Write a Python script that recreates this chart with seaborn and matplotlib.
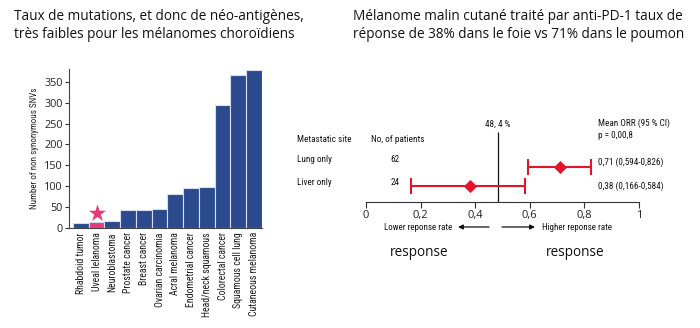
import matplotlib
matplotlib.use("Agg")
import matplotlib.pyplot as plt
import seaborn as sns
import numpy as np
from matplotlib import font_manager as fm

# ---------------- data ----------------
cancer_types = ["Rhabdoid tumor", "Uveal lelanoma", "Neuroblastoma", "Prostate cancer",
                "Breast cancer", "Ovarian carcinomia", "Acral melanoma", "Endometrial cancer",
                "Head/neck squamous", "Colorectal cancer", "Squamous cell lung", "Cutaneous melanoma"]
snv_counts = [11, 15, 17, 43, 43, 46, 82, 95, 98, 295, 365, 377]
highlight = "Uveal lelanoma"
star_value = 36
y_ticks = [0, 50, 100, 150, 200, 250, 300, 350]

sites = ["Lung only", "Liver only"]
n_patients = ["62", "24"]
orr = [0.71, 0.38]
ci_low = [0.594, 0.166]
ci_high = [0.826, 0.584]
orr_labels = ["0,71 (0,594-0,826)", "0,38 (0,166-0,584)"]
ref_rate = 0.484
x_ticks = [0, 0.2, 0.4, 0.6, 0.8, 1.0]
x_tick_labels = ["0", "0,2", "0,4", "0,6", "0,8", "1"]

title_left = ["Taux de mutations, et donc de néo-antigènes,",
              "très faibles pour les mélanomes choroïdiens"]
title_right = ["Mélanome malin cutané traité par anti-PD-1 taux de",
               "réponse de 38% dans le foie vs 71% dans le poumon"]

# ---------------- style ----------------
sns.set_theme(style="white")
plt.rcParams["font.family"] = ["Open Sans", "DejaVu Sans"]
names = {f.name for f in fm.fontManager.ttflist}
COND = None
for cand in ["Liberation Sans Narrow", "DejaVu Sans Condensed", "Roboto Condensed", "Open Sans Condensed"]:
    if cand in names:
        COND = cand
        break
if COND is None:
    cond_kw = dict(family="DejaVu Sans", stretch="condensed")
else:
    cond_kw = dict(family=COND)

BLUE = "#2a4a8d"
PINK = "#e6397c"
RED = "#e2142e"

W, H = 700, 328
fig = plt.figure(figsize=(7, 3.28), dpi=100)
fx = lambda x: x / W
fy = lambda y: 1 - y / H

# ---------------- left: bar chart ----------------
axL = fig.add_axes([fx(69), fy(228), (262 - 69) / W, (228 - 69.2) / H])
colors = [PINK if c == highlight else BLUE for c in cancer_types]
sns.barplot(x=cancer_types, y=snv_counts, hue=cancer_types, palette=colors, legend=False,
            width=1.0, edgecolor="#d6dceb", linewidth=0.8, saturation=1, ax=axL)
axL.set_xlim(-0.75, len(cancer_types) - 0.5)
axL.set_ylim(0, 380)
axL.set_yticks(y_ticks)
axL.set_yticklabels([str(v) for v in y_ticks], fontsize=7.8, color="#222222")
axL.tick_params(axis="y", direction="out", length=3, width=0.8, color="#333333", pad=1.5, left=True)
axL.tick_params(axis="x", length=0, pad=3)
axL.set_xticks(range(len(cancer_types)))
axL.set_xticklabels(cancer_types, rotation=90, fontsize=7, color="#1a1a1a", **cond_kw)
for s in ["top", "right"]:
    axL.spines[s].set_visible(False)
for s in ["left", "bottom"]:
    axL.spines[s].set_color("#444444")
    axL.spines[s].set_linewidth(0.8)
axL.set_ylabel("Number of non synonymous SNVs", fontsize=6.5, color="#222222", labelpad=4, **cond_kw)
axL.scatter([cancer_types.index(highlight)], [star_value], marker="*", s=170, color=PINK,
            linewidths=0, zorder=5)

tt = dict(fontsize=9.8, va="center", ha="left", color="#111111")
fig.text(fx(14), fy(17), title_left[0], **tt)
fig.text(fx(14), fy(35), title_left[1], **tt)
fig.text(fx(353), fy(17), title_right[0], **tt)
fig.text(fx(353), fy(35), title_right[1], **tt)

# ---------------- right: forest plot ----------------
unit = 19.0
y0 = 1 - 16 / unit
axR = fig.add_axes([fx(366), fy(202), 273 / W, 87 / H])
axR.set_xlim(0, 1)
axR.set_ylim(y0, y0 + 87 / unit)
rows = [2, 1]
orr_a = np.array(orr)
axR.errorbar(orr, rows, xerr=[orr_a - np.array(ci_low), np.array(ci_high) - orr_a],
             fmt="none", ecolor=RED, elinewidth=1.5, capsize=5.5, capthick=1.5, zorder=3)
sns.scatterplot(x=orr, y=rows, marker="D", s=45, color=RED, edgecolor=RED, linewidth=0,
                ax=axR, zorder=4, legend=False)
axR.vlines(ref_rate, y0, y0 + (202 - 131.5) / unit, color="#111111", lw=0.9)
axR.set_xticks(x_ticks)
axR.set_xticklabels(x_tick_labels, fontsize=8, color="#222222")
axR.set_yticks([])
axR.tick_params(axis="x", direction="out", length=4, width=0.8, color="#333333", pad=1.5, bottom=True)
for s in ["top", "right", "left"]:
    axR.spines[s].set_visible(False)
axR.spines["bottom"].set_color("#333333")
axR.spines["bottom"].set_linewidth(0.8)

tk = dict(fontsize=6.6, color="#111111", va="center", **cond_kw)
fig.text(fx(297), fy(139), "Metastatic site", ha="left", **tk)
fig.text(fx(371), fy(139), "No, of patients", ha="left", **tk)
for site, n, lab, yl, yv in zip(sites, n_patients, orr_labels, [159, 182], [162, 186]):
    fig.text(fx(297), fy(yl), site, ha="left", **tk)
    fig.text(fx(395), fy(yl), n, ha="center", **tk)
    fig.text(fx(598), fy(yv), lab, ha="left", **tk)
fig.text(fx(498), fy(124), "48, 4 %", ha="center", **tk)
fig.text(fx(598), fy(123), "Mean ORR (95 % CI)", ha="left", **tk)
fig.text(fx(598), fy(136), "p = 0,00,8", ha="left", **tk)

fig.text(fx(452), fy(227), "Lower reponse rate", ha="right", **dict(tk, fontsize=6.5))
fig.text(fx(542), fy(227), "Higher reponse rate", ha="left", **dict(tk, fontsize=6.5))
ap = dict(arrowstyle="-|>", color="#111111", lw=0.9, mutation_scale=7, shrinkA=0, shrinkB=0)
fig.add_artist(matplotlib.patches.FancyArrowPatch((fx(489), fy(227)), (fx(458), fy(227)),
               transform=fig.transFigure, **ap))
fig.add_artist(matplotlib.patches.FancyArrowPatch((fx(502), fy(227)), (fx(535), fy(227)),
               transform=fig.transFigure, **ap))

fig.text(fx(419), fy(253), "response", ha="center", va="center", fontsize=9.8, color="#111111")
fig.text(fx(575), fy(253), "response", ha="center", va="center", fontsize=9.8, color="#111111")

fig.savefig("out.png", dpi=100, facecolor="white")
